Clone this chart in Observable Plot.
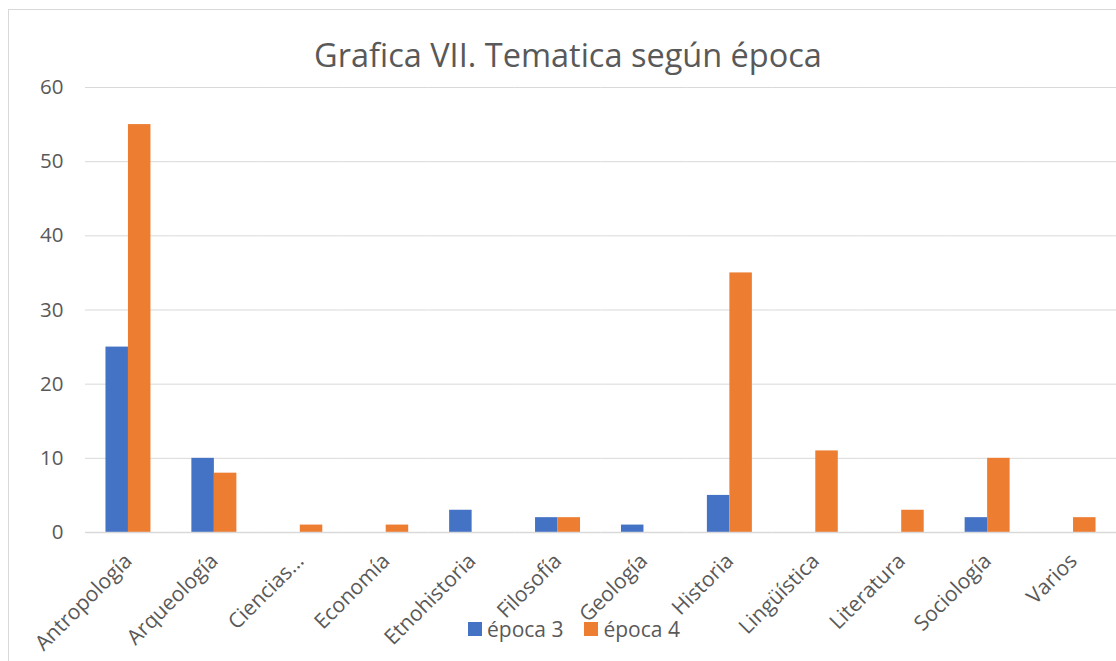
<!DOCTYPE html>
<html>
<head>
<meta charset="utf-8">
<script src="https://cdn.jsdelivr.net/npm/d3@7"></script>
<script src="https://cdn.jsdelivr.net/npm/@observablehq/plot@0.6"></script>
<style>
  html, body { margin: 0; padding: 0; background: #fff; }
  body { width: 1116px; height: 661px; overflow: hidden; position: relative; font-family: "Open Sans", sans-serif; }
  #frame { position: absolute; left: 8px; top: 9px; width: 1130px; height: 680px; border: 1px solid #d9d9d9; box-sizing: border-box; }
  #title { position: absolute; left: 0; width: 1136px; top: 32px; text-align: center; font-size: 32.5px; color: #595959; }
  #chart { position: absolute; left: 0; top: 0; }
  #legend { position: absolute; top: 615px; left: 468px; font-size: 21px; color: #595959; display: flex; align-items: center; }
  #legend .sw { width: 14px; height: 14px; display: inline-block; margin-right: 5px; }
  #legend .item { display: flex; align-items: center; margin-right: 21px; }
</style>
</head>
<body>
<div id="frame"></div>
<div id="chart"></div>
<div id="title">Grafica VII. Tematica según época</div>
<div id="legend"></div>
<script>
const categories = ["Antropología", "Arqueología", "Ciencias…", "Economía", "Etnohistoria", "Filosofía", "Geología", "Historia", "Lingüística", "Literatura", "Sociología", "Varios"];
const series = ["época 3", "época 4"];
const epoca3 = [25, 10, 0, 0, 3, 2, 1, 5, 0, 0, 2, 0];
const epoca4 = [55, 8, 1, 1, 0, 2, 0, 35, 11, 3, 10, 2];
const colors = ["#4472C4", "#ED7D31"];
const yTicks = [0, 10, 20, 30, 40, 50, 60];

const data = [];
categories.forEach((c, i) => {
  data.push({cat: c, series: series[0], value: epoca3[i]});
  data.push({cat: c, series: series[1], value: epoca4[i]});
});
const shown = data.filter(d => d.value > 0);

const chart = Plot.plot({
  width: 1116,
  height: 661,
  marginLeft: 85,
  marginRight: 0,
  marginTop: 87,
  marginBottom: 129,
  style: {fontFamily: "'Open Sans', sans-serif", color: "#595959", background: "transparent"},
  fx: {domain: categories, padding: 0, round: false, label: null},
  x: {domain: series, paddingInner: 0, paddingOuter: 0.91, round: false, axis: null},
  y: {domain: [0, 60], ticks: yTicks, label: null},
  color: {domain: series, range: colors},
  marks: [
    Plot.gridY(yTicks.filter(t => t > 0), {stroke: "#d9d9d9", strokeOpacity: 1, strokeWidth: 1}),
    Plot.barY(shown, {fx: "cat", x: "series", y: "value", fill: "series"}),
    Plot.ruleY([0], {stroke: "#d9d9d9", strokeWidth: 1.5}),
    Plot.axisY({ticks: yTicks, tickSize: 0, tickPadding: 22, fontSize: 20.5, fill: "#595959", label: null}),
    Plot.axisFx({anchor: "bottom", tickRotate: -45, tickSize: 0, tickPadding: 25, fontSize: 21, fill: "#595959", label: null})
  ]
});
document.getElementById("chart").appendChild(chart);

const legend = document.getElementById("legend");
series.forEach((s, i) => {
  const item = document.createElement("span");
  item.className = "item";
  const sw = document.createElement("span");
  sw.className = "sw";
  sw.style.background = colors[i];
  item.appendChild(sw);
  item.appendChild(document.createTextNode(s));
  legend.appendChild(item);
});
</script>
</body>
</html>
